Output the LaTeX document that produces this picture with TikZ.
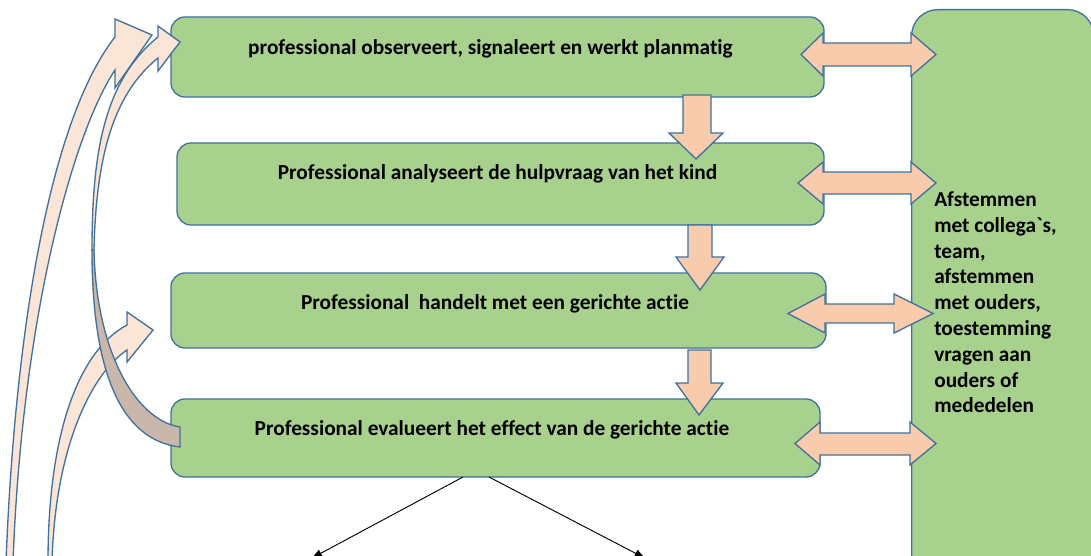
\documentclass[tikz,border=0pt]{standalone}
\usepackage{fontspec}
\newfontfamily\labelfont{Carlito}[Ligatures=CommonOff]
\usetikzlibrary{arrows.meta}
\definecolor{boxgreen}{HTML}{A9D18E}
\definecolor{edgeblue}{HTML}{41719C}
\definecolor{peach}{HTML}{F8CBAD}
\definecolor{lightpeach}{HTML}{FBE5D6}
\definecolor{darkpeach}{HTML}{C9B7AB}
\begin{document}
\begin{tikzpicture}[x=0.75pt,y=-0.75pt,
  box/.style={draw=edgeblue, fill=boxgreen, line width=1pt, rounded corners=10.5pt, inner sep=0pt},
  lbl/.style={font=\labelfont\fontsize{16}{19.35}\selectfont\bfseries, inner sep=0pt},
  blockarrow/.style={draw=edgeblue, fill=peach, line width=1pt, line join=miter},
  curvearrow/.style={draw=edgeblue, fill=lightpeach, line width=1pt},
  backarrow/.style={draw=edgeblue, fill=darkpeach, line width=1pt},
  conn/.style={draw=black, line width=0.7pt, -{Triangle[length=7.5pt,width=6pt]}}]
\useasboundingbox (0,0) rectangle (1091,556);
\clip (0,0) rectangle (1091,556);
\fill[white] (0,0) rectangle (1091,556);
% boxes
\node[box, minimum width=653*0.75pt, minimum height=80*0.75pt] (b1) at (497.5,57) {};
\node[box, minimum width=647*0.75pt, minimum height=82*0.75pt] (b2) at (500.5,184) {};
\node[box, minimum width=655*0.75pt, minimum height=75*0.75pt] (b3) at (498.5,310.5) {};
\node[box, minimum width=649*0.75pt, minimum height=78*0.75pt] (b4) at (495.5,438) {};
\node[box, rounded corners=19.5pt, minimum width=182*0.75pt, minimum height=700*0.75pt, anchor=north west] (r) at (911,9) {};
% down block arrows
\draw[blockarrow] (683,95) -- (711,95) -- (711,133) -- (723,133) -- (696,159) -- (669,133) -- (683,133) -- cycle;
\draw[blockarrow] (688,225) -- (712,225) -- (712,257) -- (724,257) -- (700,290) -- (676,257) -- (688,257) -- cycle;
\draw[blockarrow] (688,350) -- (711,350) -- (711,383) -- (723,383) -- (699,415) -- (676,383) -- (688,383) -- cycle;
% double block arrows
\draw[blockarrow] (801,54.5) -- (823,33) -- (823,43) -- (911,43) -- (911,33) -- (936,54.5) -- (911,76) -- (911,66) -- (823,66) -- (823,76) -- cycle;
\draw[blockarrow] (798,183) -- (823,162) -- (823,172) -- (911,172) -- (911,162) -- (936,183) -- (911,204) -- (911,194) -- (823,194) -- (823,204) -- cycle;
\draw[blockarrow] (788,313.5) -- (825,294) -- (825,304) -- (894,304) -- (894,294) -- (933,313.5) -- (894,333) -- (894,323) -- (825,323) -- (825,333) -- cycle;
\draw[blockarrow] (795,443.5) -- (820,422) -- (820,433) -- (910,433) -- (910,422) -- (936,443.5) -- (910,465) -- (910,455) -- (820,455) -- (820,465) -- cycle;
% curved arrows
\draw[curvearrow] (6,562) .. controls (15,330) and (50,120) .. (115,37) -- (115,19) -- (152,35) -- (115,88) -- (115,70) .. controls (72,135) and (22,320) .. (13,562) -- cycle;
\draw[curvearrow] (48,562) .. controls (48,430) and (80,350) .. (127,325) -- (127,312) -- (153,330) -- (127,362) -- (127,350) .. controls (90,375) and (55,450) .. (52,562) -- cycle;
\draw[curvearrow] (92,250) .. controls (92,150) and (105,80) .. (158,37) -- (158,26) -- (180,42) -- (158,71) -- (158,58) .. controls (112,95) and (96,160) .. (94,250) -- cycle;
\draw[backarrow] (92,250) .. controls (92,370) and (120,440) .. (180,447) -- (180,427) .. controls (135,420) and (96,350) .. (94,250) -- cycle;
% texts
\node[lbl, anchor=base] (t1) at (490.5,55) {professional observeert, signaleert en werkt planmatig};
\node[lbl, anchor=base] (t2) at (497.5,180) {Professional analyseert de hulpvraag van het kind};
\node[lbl, anchor=base] (t3) at (495,309) {Professional\ \ handelt met een gerichte actie};
\node[lbl, anchor=base] (t4) at (492,435) {Professional evalueert het effect van de gerichte actie};
\node[lbl, anchor=north west, align=left] (tr) at (934,191.5) {Afstemmen\\met collega`s,\\team,\\afstemmen\\met ouders,\\toestemming\\vragen aan\\ouders of\\mededelen};
% connectors
\coordinate (s1) at (463,477);
\coordinate (e1) at (312,558);
\coordinate (s2) at (489,477);
\coordinate (e2) at (644.6,558);
\draw[conn] (s1) -- (e1);
\draw[conn] (s2) -- (e2);
\end{tikzpicture}
\end{document}
